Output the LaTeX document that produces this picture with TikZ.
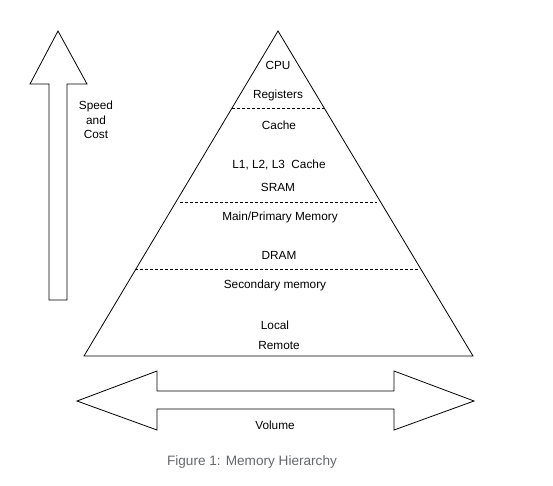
\documentclass[tikz,border=0pt]{standalone}
\usepackage{fontspec}
\setmainfont{Liberation Sans}
\usepackage{tikz}
\usepackage{xcolor}
\definecolor{capgray}{RGB}{100,104,110}
\tikzset{
  lbl/.style={font=\fontsize{11.8}{13}\selectfont, inner sep=0pt},
  level/.style={dash pattern=on 3pt off 2pt, line width=0.6pt},
  outline/.style={line width=0.8pt, line join=miter}
}

\begin{document}
\begin{tikzpicture}[x=1pt,y=-1pt]
\useasboundingbox (0,0) rectangle (553,485);
% pyramid
\coordinate (top) at (278,31);
\coordinate (bl) at (84,356);
\coordinate (br) at (473,356);
\draw[outline] (top) -- (br) -- (bl) -- cycle;
%
\coordinate (d1l) at (232,108);
\coordinate (d1r) at (325,108);
\coordinate (d2l) at (180,202);
\coordinate (d2r) at (377,202);
\coordinate (d3l) at (135,269);
\coordinate (d3r) at (419,269);
\draw[level] (d1l) -- (d1r);
\draw[level] (d2l) -- (d2r);
\draw[level] (d3l) -- (d3r);
%
\node[lbl] (cpu) at (278,65) {CPU};
\node[lbl] (reg) at (278,95) {Registers};
\node[lbl] (cache) at (279,125) {Cache};
\node[lbl] (lcache) at (279,165) {L1, L2, L3\ \ Cache};
\node[lbl] (sram) at (278,187) {SRAM};
\node[lbl] (mainmem) at (280,217) {Main/Primary Memory};
\node[lbl] (dram) at (279,255) {DRAM};
\node[lbl] (secmem) at (275,285) {Secondary memory};
\node[lbl] (local) at (275,325) {Local};
\node[lbl] (remote) at (279,345) {Remote};
%
% speed and cost arrow
\draw[outline] (58,31) -- (87,84) -- (67,84) -- (67,300) -- (49,300) -- (49,84) -- (30,84) -- cycle;
\node[lbl, align=center, font=\fontsize{11.8}{14.5}\selectfont] (speed) at (96,120) {Speed\\and\\Cost};
%
% volume arrow
\draw[outline] (77,401) -- (157,371) -- (157,391) -- (394,391) -- (394,371) -- (474,401)
  -- (394,430) -- (394,409) -- (157,409) -- (157,430) -- cycle;
\node[lbl] (volume) at (275,425) {Volume};
%
\node[font=\fontsize{13.6}{15}\selectfont, text=capgray, inner sep=0pt] (caption) at (252,462) {Figure 1: Memory Hierarchy};
\end{tikzpicture}
\end{document}
